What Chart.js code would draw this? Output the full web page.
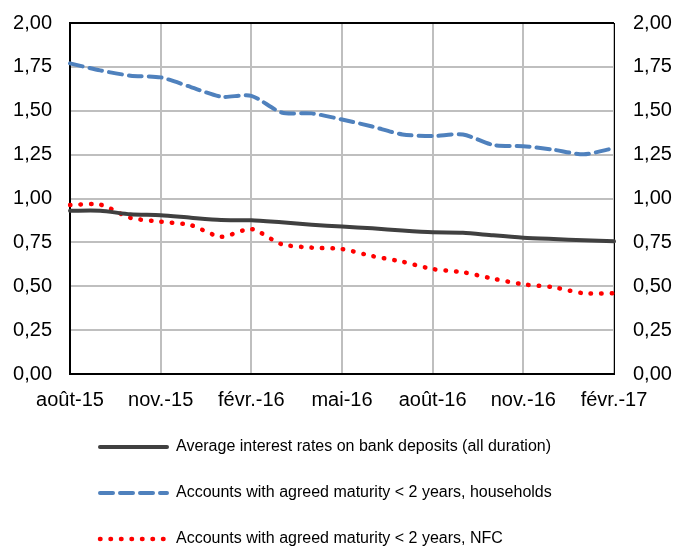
<!DOCTYPE html>
<html>
<head>
<meta charset="utf-8">
<script src="https://cdn.jsdelivr.net/npm/chart.js@4"></script>
<style>
  body { margin: 0; background: #fff; }
  #wrap { width: 676px; height: 548px; }
</style>
</head>
<body>
<div id="wrap"><canvas id="ratesChart" width="676" height="548"></canvas></div>
<script>
// Monthly labels, Aug 2015 - Feb 2017
const months = ['août-15', 'sept.-15', 'oct.-15', 'nov.-15', 'déc.-15', 'janv.-16', 'févr.-16',
    'mars-16', 'avr.-16', 'mai-16', 'juin-16', 'juil.-16', 'août-16', 'sept.-16', 'oct.-16',
    'nov.-16', 'déc.-16', 'janv.-17', 'févr.-17'];

// Values
const avgRates = [0.93, 0.93, 0.91, 0.905, 0.89, 0.877, 0.876, 0.864, 0.851, 0.84,
    0.83, 0.817, 0.807, 0.805, 0.79, 0.777, 0.769, 0.762, 0.756];
const households = [1.77, 1.73, 1.70, 1.69, 1.635, 1.58, 1.585, 1.49, 1.485, 1.45,
    1.41, 1.365, 1.356, 1.365, 1.305, 1.298, 1.278, 1.252, 1.287];
const nfc = [0.963, 0.965, 0.89, 0.868, 0.848, 0.782, 0.826, 0.74, 0.72, 0.712,
    0.672, 0.64, 0.598, 0.58, 0.543, 0.511, 0.494, 0.46, 0.46];

const yTicks = [0, 0.25, 0.5, 0.75, 1, 1.25, 1.5, 1.75, 2];

const seriesNames = [
    'Average interest rates on bank deposits (all duration)',
    'Accounts with agreed maturity < 2 years, households',
    'Accounts with agreed maturity < 2 years, NFC'
];

const fontFamily = "Arial, 'Liberation Sans', sans-serif";

function fmt(v) {
    return v.toFixed(2).replace('.', ',');
}

// fixed axis width, and no extra room above/below for the end labels
function fitSide(width) {
    return s => {
        s.width = width;
        s.paddingTop = 0;
        s.paddingBottom = 0;
    };
}

// Legend drawn under the axis, one item per row, left aligned
const stackedLegend = {
    id: 'stackedLegend',
    afterDraw(chart) {
        const ctx = chart.ctx;
        const rows = [447, 493, 539];
        chart.data.datasets.forEach((ds, i) => {
            const y = rows[i];
            ctx.save();
            ctx.strokeStyle = ds.borderColor;
            ctx.lineWidth = ds.borderWidth;
            ctx.lineCap = ds.borderCapStyle || 'butt';
            ctx.setLineDash(ds.borderDash || []);
            ctx.beginPath();
            ctx.moveTo(100, y);
            ctx.lineTo(167, y);
            ctx.stroke();
            ctx.setLineDash([]);
            ctx.fillStyle = '#000';
            ctx.font = '16px ' + fontFamily;
            ctx.textBaseline = 'middle';
            ctx.fillText(ds.label, 176, y);
            ctx.restore();
        });
    }
};

const ctx = document.getElementById('ratesChart').getContext('2d');
new Chart(ctx, {
    type: 'line',
    data: {
        labels: months,
        datasets: [{
            label: seriesNames[0],
            data: avgRates,
            borderColor: '#404040',
            borderWidth: 4,
            borderCapStyle: 'round',
            tension: 0.25,
            pointRadius: 0,
            yAxisID: 'y'
        }, {
            label: seriesNames[1],
            data: households,
            borderColor: '#4f81bd',
            borderWidth: 4,
            borderDash: [13, 7],
            borderCapStyle: 'round',
            tension: 0.25,
            pointRadius: 0,
            yAxisID: 'y'
        }, {
            label: seriesNames[2],
            data: nfc,
            borderColor: '#ff0000',
            borderWidth: 4.5,
            borderDash: [0.5, 10],
            borderCapStyle: 'round',
            tension: 0.25,
            pointRadius: 0,
            yAxisID: 'y'
        }]
    },
    options: {
        responsive: false,
        animation: false,
        layout: { padding: { top: 23, left: 0, right: 0, bottom: 0 } },
        plugins: {
            legend: { display: false },
            tooltip: { enabled: false }
        },
        scales: {
            x: {
                offset: false,
                grid: {
                    drawTicks: false,
                    lineWidth: 2,
                    color: c => (c.index % 3 === 0 ? '#bfbfbf' : 'rgba(0,0,0,0)')
                },
                border: { color: '#000', width: 2 },
                ticks: {
                    autoSkip: false,
                    maxRotation: 0,
                    padding: 14,
                    color: '#000',
                    font: { size: 20, family: fontFamily },
                    callback: (v, i) => (i % 3 === 0 ? months[i] : '')
                },
                afterFit: s => { s.height = 174; }
            },
            y: {
                position: 'left',
                min: 0,
                max: 2,
                afterBuildTicks: s => { s.ticks = yTicks.map(v => ({ value: v })); },
                grid: {
                    drawTicks: false,
                    lineWidth: 2,
                    color: c => (c.tick && c.tick.value === 2 ? '#000' : '#bfbfbf')
                },
                border: { color: '#000', width: 2 },
                ticks: {
                    padding: 18,
                    color: '#000',
                    font: { size: 20, family: fontFamily },
                    callback: v => fmt(v)
                },
                afterFit: fitSide(70)
            },
            y2: {
                position: 'right',
                min: 0,
                max: 2,
                afterBuildTicks: s => { s.ticks = yTicks.map(v => ({ value: v })); },
                grid: { display: false, drawTicks: false },
                border: { color: '#000', width: 1 },
                ticks: {
                    padding: 19,
                    color: '#000',
                    font: { size: 20, family: fontFamily },
                    callback: v => fmt(v)
                },
                afterFit: fitSide(62)
            }
        }
    },
    plugins: [stackedLegend]
});
</script>
</body>
</html>
